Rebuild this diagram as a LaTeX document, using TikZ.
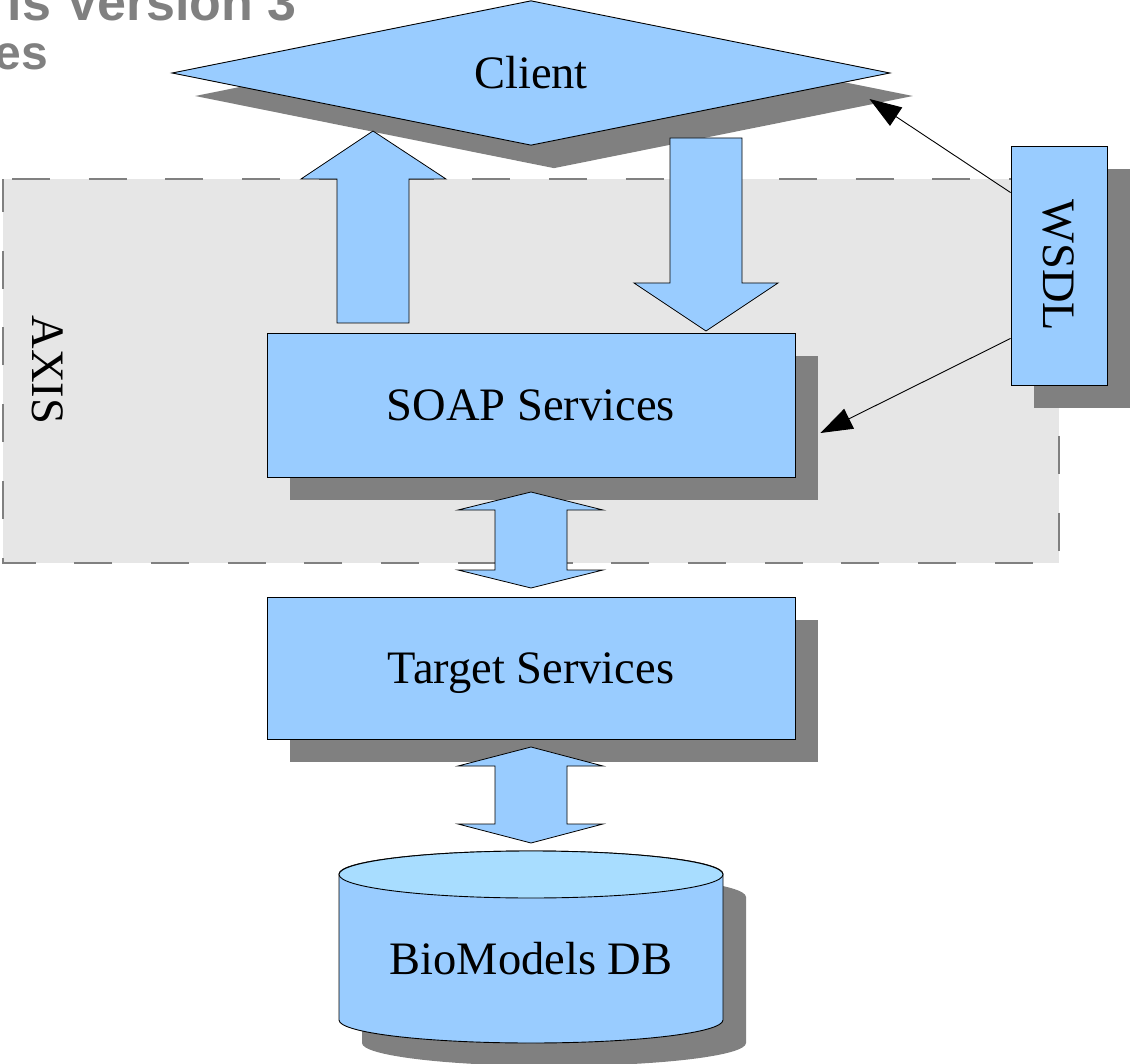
\documentclass[tikz,border=0pt]{standalone}
\usepackage{fontspec}
\setmainfont{Liberation Serif}
\newfontfamily\titlesans{Liberation Sans}
\usetikzlibrary{shapes.geometric,shadows,arrows.meta,calc}
\definecolor{boxblue}{HTML}{99CCFF}
\definecolor{topblue}{HTML}{A8DDFF}
\definecolor{shgray}{HTML}{808080}
\definecolor{axisbg}{HTML}{E6E6E6}
\definecolor{titlegray}{HTML}{808080}
\begin{document}
\begin{tikzpicture}[x=1pt,y=1pt,
  lblfont/.style={font=\fontsize{46.5}{56}\selectfont},
  lbl/.style={lblfont, text height=31pt, text depth=0pt, inner sep=0pt},
  shade23/.style={drop shadow={shadow xshift=23pt,shadow yshift=-23pt,opacity=1,fill=shgray}},
  box/.style={draw=black, line width=0.9pt, fill=boxblue, shade23},
  blockarrow/.style={draw=black, line width=0.8pt, fill=boxblue, line join=miter},
  wire/.style={draw=black, line width=0.9pt, -{Triangle[length=32pt,width=22pt]}},
  titletext/.style={anchor=base east, inner sep=0pt, text=titlegray},
]
\useasboundingbox (0,-1064) rectangle (1130,0);

% title fragments
\node[titletext, font=\titlesans\bfseries\fontsize{52}{62}\selectfont] (title) at (297,-21) {is Version 3};
\node[titletext, font=\titlesans\bfseries\fontsize{48}{58}\selectfont] (subtitle) at (48,-70) {es};

% AXIS container
\path[fill=axisbg] (3,-179) rectangle (1059,-563);
\draw[shgray, line width=2pt, dash pattern=on 38pt off 38.7pt, dash phase=67.7pt]
  (3,-179) -- (1059,-179) -- (1059,-563) -- (3,-563) -- cycle;
\node[lbl, rotate=-90] (axis) at (48,-370) {AXIS};

% main nodes
\node[box, lbl, diamond, minimum width=718pt, minimum height=143pt] (client) at (531,-73) {Client};
\node[box, lblfont, inner sep=0pt, minimum width=96pt, minimum height=239pt] (wsdl) at (1059,-265.5) {\rotatebox{-90}{WSDL}};
\node[box, lbl, minimum width=528pt, minimum height=144pt] (soap) at (531,-405) {SOAP Services};
\node[box, lbl, minimum width=528pt, minimum height=142pt] (target) at (531,-668) {Target Services};

% database cylinder
\fill[shgray] (362,-897) -- (362,-1043)
  arc[start angle=180,end angle=360,x radius=192pt,y radius=23pt]
  -- (746,-897)
  arc[start angle=0,end angle=180,x radius=192pt,y radius=23pt] -- cycle;
\filldraw[fill=boxblue, draw=black, line width=0.9pt] (339,-874) -- (339,-1020)
  arc[start angle=180,end angle=360,x radius=192pt,y radius=23pt]
  -- (723,-874)
  arc[start angle=0,end angle=180,x radius=192pt,y radius=23pt] -- cycle;
\filldraw[fill=topblue, draw=black, line width=0.9pt] (531,-874.5) ellipse [x radius=192pt, y radius=23.5pt];
\node[lbl] (db) at (531,-959) {BioModels DB};

% block arrows
\path[blockarrow] (337,-323) -- (337,-179) -- (301,-179) -- (373,-131) -- (446,-179) -- (409,-179) -- (409,-323) -- cycle;
\path[blockarrow] (670,-138) -- (742,-138) -- (742,-283) -- (778,-283) -- (706,-331) -- (634,-283) -- (670,-283) -- cycle;
\path[blockarrow] (531,-492) -- (603,-510) -- (567,-510) -- (567,-570) -- (603,-570) -- (531,-588)
  -- (458,-570) -- (495,-570) -- (495,-510) -- (458,-510) -- cycle;
\path[blockarrow] (531,-747) -- (603,-766) -- (567,-766) -- (567,-824) -- (603,-824) -- (531,-843)
  -- (458,-824) -- (495,-824) -- (495,-766) -- (458,-766) -- cycle;

% WSDL connectors
\draw[wire] ($(wsdl.north west)+(0,-47)$) -- ($(client.east)+(-21,-26)$);
\draw[wire] ($(wsdl.south west)+(0,47)$) -- ($(soap.east)+(25,-28)$);
\end{tikzpicture}
\end{document}
